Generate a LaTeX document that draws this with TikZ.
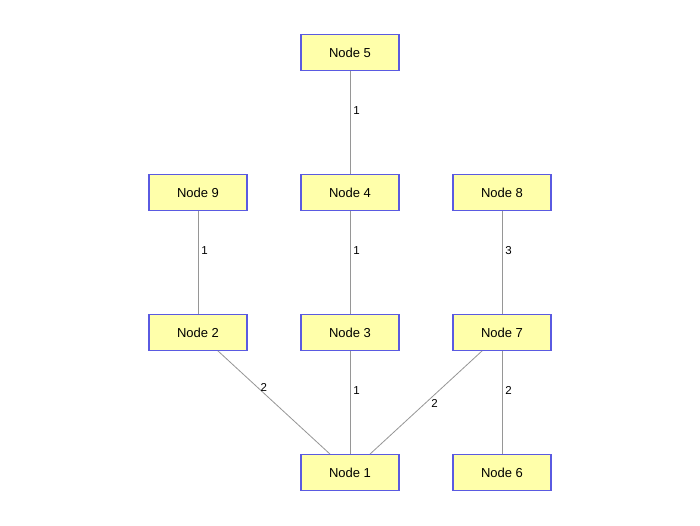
\documentclass[tikz,border=0pt]{standalone}
\usepackage{fontspec}
\setmainfont{Liberation Sans}
\definecolor{boxfill}{RGB}{255,255,170}
\definecolor{boxline}{RGB}{90,90,225}
\definecolor{edgegray}{RGB}{150,150,150}
\tikzset{
  nodebox/.style={draw=boxline, fill=boxfill, line width=1.3pt, minimum width=98pt, minimum height=35.5pt, inner sep=0pt, font=\fontsize{13}{15}\selectfont},
  edge/.style={draw=edgegray, line width=0.8pt},
  elabel/.style={font=\fontsize{11.5}{13}\selectfont, inner sep=1pt, text=black}
}
\begin{document}
\begin{tikzpicture}[x=1pt,y=-1pt]
\useasboundingbox[fill=white] (0,0) rectangle (700,525);
\node[nodebox] (n5) at (350,52.5) {Node 5};
\node[nodebox] (n9) at (198,192.5) {Node 9};
\node[nodebox] (n4) at (350,192.5) {Node 4};
\node[nodebox] (n8) at (502,192.5) {Node 8};
\node[nodebox] (n2) at (198,332.5) {Node 2};
\node[nodebox] (n3) at (350,332.5) {Node 3};
\node[nodebox] (n7) at (502,332.5) {Node 7};
\node[nodebox] (n1) at (350,472.5) {Node 1};
\node[nodebox] (n6) at (502,472.5) {Node 6};
\draw[edge] (n5) -- node[elabel, pos=0.385, right=2pt] (l54) {1} (n4);
\draw[edge] (n9) -- node[elabel, pos=0.385, right=2pt] (l92) {1} (n2);
\draw[edge] (n4) -- node[elabel, pos=0.385, right=2pt] (l43) {1} (n3);
\draw[edge] (n8) -- node[elabel, pos=0.385, right=2pt] (l87) {3} (n7);
\draw[edge] (n3) -- node[elabel, pos=0.385, right=2pt] (l31) {1} (n1);
\draw[edge] (n7) -- node[elabel, pos=0.385, right=2pt] (l76) {2} (n6);
\draw[edge] (n2) -- node[elabel, pos=0.35, right=2pt] (l21) {2} (n1);
\draw[edge] (n7) -- node[elabel, pos=0.51, right=5pt] (l71) {2} (n1);
\end{tikzpicture}
\end{document}
